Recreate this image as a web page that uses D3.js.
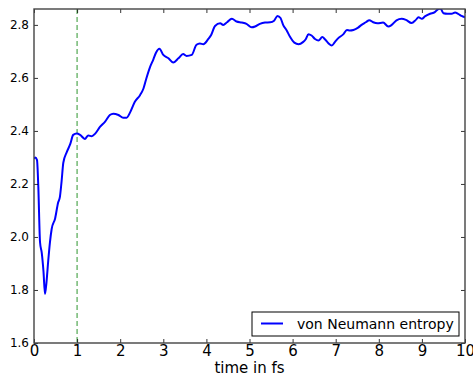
<!DOCTYPE html>
<html>
<head>
<meta charset="utf-8">
<script src="https://cdn.jsdelivr.net/npm/d3@7"></script>
<style>
  body { margin: 0; background: #fff; }
  text { font-family: "DejaVu Sans", sans-serif; fill: #000; }
</style>
</head>
<body>
<div id="chart"></div>
<script>
// time in fs
var times = [0, 0.03, 0.07, 0.1, 0.14, 0.18, 0.22, 0.255, 0.29, 0.33, 0.37, 0.41, 0.49, 0.56, 0.6, 0.64, 0.68, 0.76, 0.84, 0.91,
    0.99, 1.07, 1.18, 1.26, 1.34, 1.42, 1.53, 1.65, 1.76, 1.84, 1.96, 2.07, 2.15, 2.23, 2.34, 2.46, 2.54, 2.61, 2.69, 2.77,
    2.83, 2.91, 3.0, 3.12, 3.23, 3.35, 3.46, 3.54, 3.66, 3.77, 3.85, 3.93, 4.04, 4.11, 4.2, 4.32, 4.39, 4.48, 4.59, 4.70,
    4.82, 4.93, 5.05, 5.13, 5.24, 5.36, 5.48, 5.57, 5.65, 5.72, 5.78, 5.86, 5.94, 6.04, 6.14, 6.24, 6.30, 6.37, 6.44, 6.52,
    6.60, 6.69, 6.75, 6.83, 6.91, 6.98, 7.06, 7.18, 7.26, 7.33, 7.41, 7.52, 7.60, 7.70, 7.78, 7.87, 7.97, 8.10, 8.22, 8.30,
    8.41, 8.53, 8.63, 8.76, 8.86, 8.92, 9.0, 9.07, 9.19, 9.30, 9.38, 9.43, 9.5, 9.59, 9.69, 9.77, 9.84, 9.92, 10.0];

// von Neumann entropy
var entropy = [2.295, 2.30, 2.29, 2.19, 1.98, 1.94, 1.87, 1.785, 1.83, 1.91, 1.98, 2.03, 2.07, 2.13, 2.15, 2.21, 2.28, 2.32, 2.35, 2.385,
    2.39, 2.385, 2.37, 2.383, 2.38, 2.39, 2.415, 2.435, 2.46, 2.465, 2.46, 2.45, 2.45, 2.47, 2.51, 2.535, 2.56, 2.60, 2.64, 2.67,
    2.695, 2.71, 2.687, 2.674, 2.658, 2.674, 2.69, 2.683, 2.687, 2.725, 2.73, 2.727, 2.746, 2.762, 2.796, 2.806, 2.80, 2.81, 2.823, 2.813,
    2.809, 2.804, 2.791, 2.794, 2.804, 2.809, 2.81, 2.816, 2.834, 2.826, 2.80, 2.78, 2.755, 2.733, 2.727, 2.735, 2.745, 2.765, 2.76, 2.747,
    2.741, 2.754, 2.746, 2.731, 2.722, 2.735, 2.75, 2.765, 2.781, 2.779, 2.781, 2.79, 2.80, 2.81, 2.818, 2.81, 2.806, 2.809, 2.794, 2.80,
    2.817, 2.823, 2.819, 2.807, 2.819, 2.829, 2.823, 2.832, 2.842, 2.848, 2.86, 2.862, 2.844, 2.842, 2.842, 2.847, 2.842, 2.834, 2.829];

var xTicks = [0, 1, 2, 3, 4, 5, 6, 7, 8, 9, 10];
var yTicks = [1.6, 1.8, 2.0, 2.2, 2.4, 2.6, 2.8];
var markerTime = 1;

var width = 473, height = 374;
var margin = {top: 9, right: 8, bottom: 31, left: 34};
var plotW = width - margin.left - margin.right;
var plotH = height - margin.top - margin.bottom;

var svg = d3.select("#chart").append("svg")
    .attr("width", width)
    .attr("height", height);

var g = svg.append("g")
    .attr("transform", "translate(" + margin.left + "," + margin.top + ")");

var x = d3.scaleLinear().domain([0, 10]).range([0, plotW]);
var y = d3.scaleLinear().domain([1.6, 2.86]).range([plotH, 0]);

g.append("clipPath").attr("id", "clip")
  .append("rect").attr("width", plotW).attr("height", plotH);

var points = times.map(function(t, i) { return {t: t, s: entropy[i]}; });

var line = d3.line()
    .x(function(d) { return x(d.t); })
    .y(function(d) { return y(d.s); })
    .curve(d3.curveMonotoneX);

// dashed marker at 1 fs
g.append("line")
    .attr("clip-path", "url(#clip)")
    .attr("x1", x(markerTime)).attr("x2", x(markerTime))
    .attr("y1", 0).attr("y2", plotH)
    .attr("stroke", "#008000")
    .attr("stroke-opacity", 0.55)
    .attr("stroke-width", 1.5)
    .attr("stroke-dasharray", "5,3");

g.append("path")
    .datum(points)
    .attr("clip-path", "url(#clip)")
    .attr("fill", "none")
    .attr("stroke", "#0000ff")
    .attr("stroke-width", 2)
    .attr("stroke-linejoin", "round")
    .attr("d", line);

// axes: inward ticks on all four sides
var tickLen = 4;
var axBottom = g.append("g").attr("transform", "translate(0," + plotH + ")")
    .call(d3.axisBottom(x).tickValues(xTicks).tickSizeInner(-tickLen).tickSizeOuter(0).tickPadding(2));
axBottom.selectAll("text").style("font-size", "15px");

var axTop = g.append("g")
    .call(d3.axisTop(x).tickValues(xTicks).tickSizeInner(-tickLen).tickSizeOuter(0).tickFormat(""));

var axLeft = g.append("g")
    .call(d3.axisLeft(y).tickValues(yTicks).tickSizeInner(-tickLen).tickSizeOuter(0).tickPadding(5)
        .tickFormat(d3.format(".1f")));
axLeft.selectAll("text").style("font-size", "12px");

var axRight = g.append("g").attr("transform", "translate(" + plotW + ",0)")
    .call(d3.axisRight(y).tickValues(yTicks).tickSizeInner(-tickLen).tickSizeOuter(0).tickFormat(""));

[axBottom, axTop, axLeft, axRight].forEach(function(a) {
    a.select(".domain").remove();
    a.selectAll(".tick line").attr("stroke", "#000").attr("stroke-width", 0.8);
});

// frame
g.append("rect")
    .attr("width", plotW).attr("height", plotH)
    .attr("fill", "none")
    .attr("stroke", "#444")
    .attr("stroke-width", 1.4);

// x label
svg.append("text")
    .attr("x", margin.left + plotW / 2)
    .attr("y", 373)
    .attr("text-anchor", "middle")
    .style("font-size", "15px")
    .text("time in fs");

// legend
var legend = svg.append("g").attr("transform", "translate(252,312)");
legend.append("rect")
    .attr("width", 207).attr("height", 24)
    .attr("fill", "#fff")
    .attr("stroke", "#000")
    .attr("stroke-width", 1);
legend.append("line")
    .attr("x1", 9).attr("x2", 31)
    .attr("y1", 11.5).attr("y2", 11.5)
    .attr("stroke", "#0000ff")
    .attr("stroke-width", 2);
legend.append("text")
    .attr("x", 45).attr("y", 17)
    .style("font-size", "14px")
    .text("von Neumann entropy");
</script>
</body>
</html>
